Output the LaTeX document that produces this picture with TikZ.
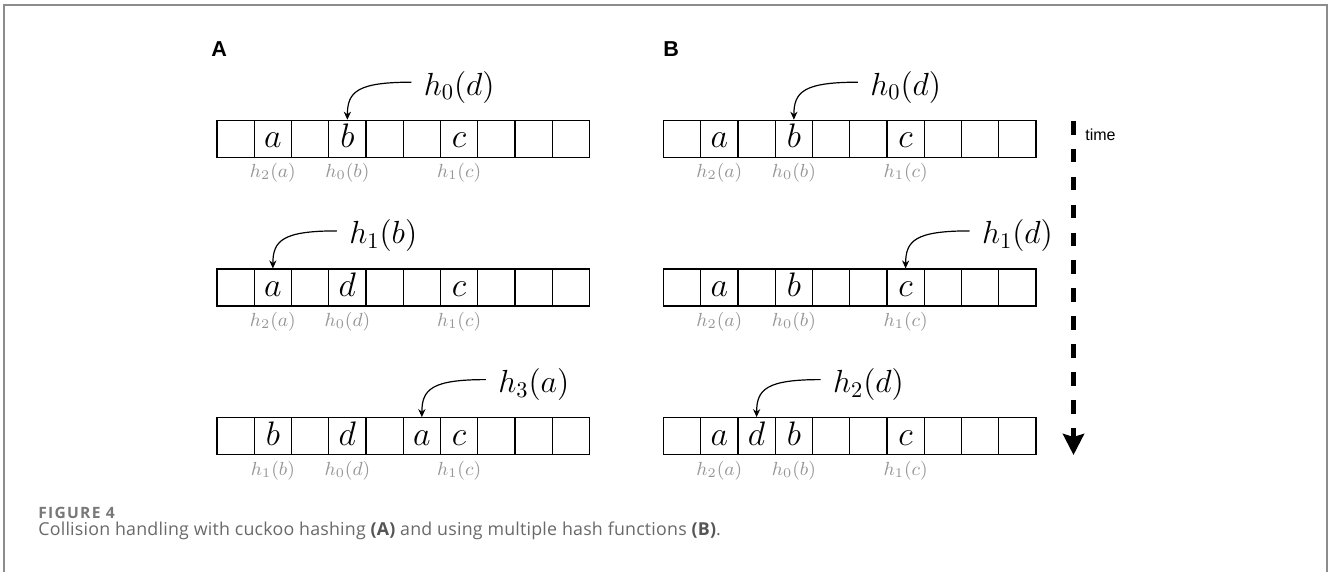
\RequirePackage{fix-cm}
\documentclass[tikz,border=0pt]{standalone}
\usepackage{fontspec}
\usetikzlibrary{arrows.meta}
\newfontfamily\capfont{Open Sans}
\newfontfamily\helv{Liberation Sans}

\definecolor{framegray}{RGB}{140,140,140}
\definecolor{hashgray}{RGB}{150,150,150}
\definecolor{figgray}{RGB}{120,120,120}
\definecolor{captext}{RGB}{105,105,105}
\definecolor{capbold}{RGB}{85,85,85}

% cell size in pixel units
\newcommand\cw{37.25}
\newcommand\ch{37}

\tikzset{
  cellbox/.style={draw, line width=0.6pt, inner sep=0pt,
    minimum width=18.625pt, minimum height=18.5pt},
  celltext/.style={inner sep=0pt, anchor=base,
    font=\fontsize{17}{20}\selectfont},
  hashlbl/.style={inner sep=0pt, text=hashgray,
    font=\fontsize{9.5}{11}\selectfont},
  hashtext/.style={inner sep=0pt, anchor=base west,
    font=\fontsize{16}{19}\selectfont},
  hashptr/.style={line width=0.6pt, -{Stealth[length=4pt,width=3.6pt]}},
  panel/.style={inner sep=0pt, anchor=base west,
    font=\helv\bfseries\fontsize{10.8}{12}\selectfont},
}

% a table of ten slots with its stored keys and their hash labels
\newcommand\hashrow[4]{%
  \foreach \k in {0,...,9}{%
    \node[cellbox] (#1-\k) at ({#2+(\k+0.5)*\cw},{#3+\ch/2}) {};}
  \foreach \k/\val/\lab in {#4}{%
    \node[celltext] (#1-v\k) at ([yshift=5pt]#1-\k.south) {$\val$};
    \node[hashlbl] (#1-l\k) at ([yshift=-7.5pt]#1-\k.south) {$\lab$};}}

% the hash value pointing into a slot
\newcommand\hashptr[3]{%
  \node[hashtext] (#1-h) at ([xshift=38pt,yshift=12.25pt]#2.north) {$#3$};
  \coordinate (#1-s) at ([xshift=-6pt,yshift=6.5pt]#1-h.base west);
  \draw[hashptr] (#1-s) .. controls +(-54,0) and +(0,-28) .. (#2.north);}

\begin{document}
\begin{tikzpicture}[x=0.5pt,y=-0.5pt]
\useasboundingbox (0,0) rectangle (1328,572);

% frame
\draw[framegray, line width=1pt] (4.3,572) -- (4.3,5.5) -- (1326.7,5.5) -- (1326.7,572);

% panel letters
\node[panel] (pa) at (211,56.7) {A};
\node[panel] (pb) at (663,56.7) {B};

% panel A: cuckoo hashing
\hashrow{a1}{217}{120.3}{1/a/h_2(a), 3/b/h_0(b), 6/c/h_1(c)}
\hashptr{pa1}{a1-3}{h_0(d)}
\hashrow{a2}{217}{269}{1/a/h_2(a), 3/d/h_0(d), 6/c/h_1(c)}
\hashptr{pa2}{a2-1}{h_1(b)}
\hashrow{a3}{217}{417.7}{1/b/h_1(b), 3/d/h_0(d), 5/a/, 6/c/h_1(c)}
\hashptr{pa3}{a3-5}{h_3(a)}

% panel B: several hash functions
\hashrow{b1}{663.5}{120.3}{1/a/h_2(a), 3/b/h_0(b), 6/c/h_1(c)}
\hashptr{pb1}{b1-3}{h_0(d)}
\hashrow{b2}{663.5}{269}{1/a/h_2(a), 3/b/h_0(b), 6/c/h_1(c)}
\hashptr{pb2}{b2-6}{h_1(d)}
\hashrow{b3}{663.5}{417.7}{1/a/h_2(a), 2/d/, 3/b/h_0(b), 6/c/h_1(c)}
\hashptr{pb3}{b3-2}{h_2(d)}

% time axis
\coordinate (t0) at (1073.5,121);
\coordinate (t1) at (1073.5,455);
\draw[line width=2.5pt, dash pattern=on 6.8pt off 7.15pt,
      -{Stealth[length=10.5pt,width=10.5pt,inset=1.5pt]}] (t0) -- (t1);
\node[inner sep=0pt, anchor=base west, font=\helv\fontsize{8}{10}\selectfont]
  (tl) at (1085,140.7) {time};

% caption
\node[inner sep=0pt, anchor=base west, text=figgray,
      font=\capfont\addfontfeatures{LetterSpace=8}\bfseries\fontsize{7.8}{9}\selectfont]
  (fig) at (38,518) {FIGURE 4};
\node[inner sep=0pt, anchor=base west, text=captext,
      font=\capfont\addfontfeatures{LetterSpace=1.2}\fontsize{8.9}{11}\selectfont] (cap) at (38,535.5)
  {Collision handling with cuckoo hashing \textcolor{capbold}{\bfseries (A)} and using multiple hash functions \textcolor{capbold}{\bfseries (B)}.};
\end{tikzpicture}
\end{document}
